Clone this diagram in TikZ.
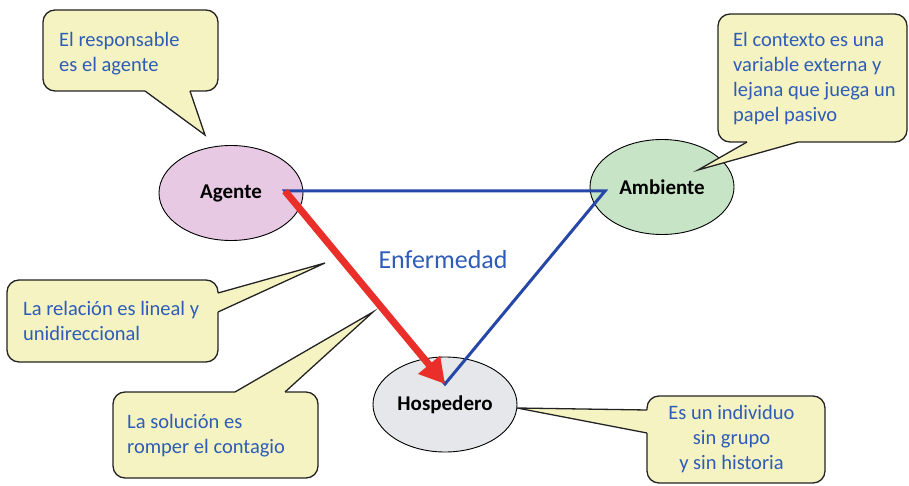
\documentclass[tikz,border=0pt]{standalone}
\usepackage{fontspec}
\setmainfont{Carlito}
\usetikzlibrary{arrows.meta,shapes.geometric}

\definecolor{notefill}{RGB}{245,243,194}
\definecolor{noteline}{RGB}{35,35,35}
\definecolor{notetext}{RGB}{46,92,184}
\definecolor{agentefill}{RGB}{231,201,227}
\definecolor{ambientefill}{RGB}{199,228,199}
\definecolor{hospfill}{RGB}{229,231,234}
\definecolor{triblue}{RGB}{38,70,168}
\definecolor{arrowred}{RGB}{234,46,42}

\begin{document}
\begin{tikzpicture}[x=1pt,y=-1pt,
  notebox/.style={fill=notefill,draw=noteline,line width=1.3pt,rounded corners=12pt},
  notecover/.style={fill=notefill},
  noteedge/.style={draw=noteline,line width=1.3pt},
  % multi-line text: the base anchor sits on the last line
  notetxt/.style={anchor=base west,inner sep=0pt,align=left,text=notetext,
    font=\fontsize{20.5}{25}\selectfont},
  actor/.style={ellipse,draw=black,line width=0.9pt,inner sep=0pt,
    minimum width=144pt,minimum height=95pt,font=\fontsize{21}{24}\selectfont\bfseries}]

\useasboundingbox (0,0) rectangle (909,486);

% --- the three actors ---
\node[actor,fill=agentefill]   (agente)   at (231,193)   {Agente};
\node[actor,fill=ambientefill] (ambiente) at (662,187)   {Ambiente};
\node[actor,fill=hospfill]     (hosp)     at (445,404.5) {Hospedero};

% --- triangle vertices inside the ellipses ---
\coordinate (vA) at (285,191);
\coordinate (vB) at (605,191);
\coordinate (vC) at (445,384);

\draw[triblue,line width=3pt,line join=miter] (vA) -- (vB) -- (vC) -- cycle;
\draw[arrowred,line width=7pt,-{Triangle[length=25pt,width=27pt]}] (vA) -- (vC);

\node[anchor=base,inner sep=0pt,text=notetext,font=\fontsize{26}{30}\selectfont]
  (enf) at (443,268) {Enfermedad};

% --- callout: agent ---
\draw[notebox] (43,10) rectangle (218,91);
\coordinate (tA) at (205,135);
\fill[notecover] (145,86) -- (145,91) -- (tA) -- (190,91) -- (190,86) -- cycle;
\draw[noteedge] (145,91) -- (tA) -- (190,91);
\node[notetxt] (txtA) at (59,72) {El responsable\\es el agente};

% --- callout: environment ---
\draw[notebox] (718,14) rectangle (907,142);
\coordinate (tB) at (698,170);
\fill[notecover] (747,137) -- (747,142) -- (tB) -- (798,142) -- (798,137) -- cycle;
\draw[noteedge] (747,142) -- (tB) -- (798,142);
\node[notetxt] (txtB) at (733,122)
  {El contexto es una\\variable externa y\\lejana que juega un\\papel pasivo};

% --- callout: linear relation ---
\draw[notebox] (7,280) rectangle (218,362);
\coordinate (tC) at (325,263);
\fill[notecover] (213,293) -- (218,293) -- (tC) -- (218,312) -- (213,312) -- cycle;
\draw[noteedge] (218,293) -- (tC) -- (218,312);
\node[notetxt] (txtC) at (23,340) {La relación es lineal y\\unidireccional};

% --- callout: solution ---
\draw[notebox] (113,392) rectangle (318,478);
\coordinate (tD) at (373,312);
\fill[notecover] (235,397) -- (235,392) -- (tD) -- (285,392) -- (285,397) -- cycle;
\draw[noteedge] (235,392) -- (tD) -- (285,392);
\node[notetxt] (txtD) at (127,453) {La solución es\\romper el contagio};

% --- callout: host ---
\draw[notebox] (647,396) rectangle (825,483);
\coordinate (tE) at (517,408);
\fill[notecover] (652,410) -- (647,410) -- (tE) -- (647,433) -- (652,433) -- cycle;
\draw[noteedge] (647,410) -- (tE) -- (647,433);
\node[notetxt,anchor=base,align=center] (txtE) at (731.5,469.5)
  {Es un individuo\\sin grupo\\y sin historia};

\end{tikzpicture}
\end{document}
